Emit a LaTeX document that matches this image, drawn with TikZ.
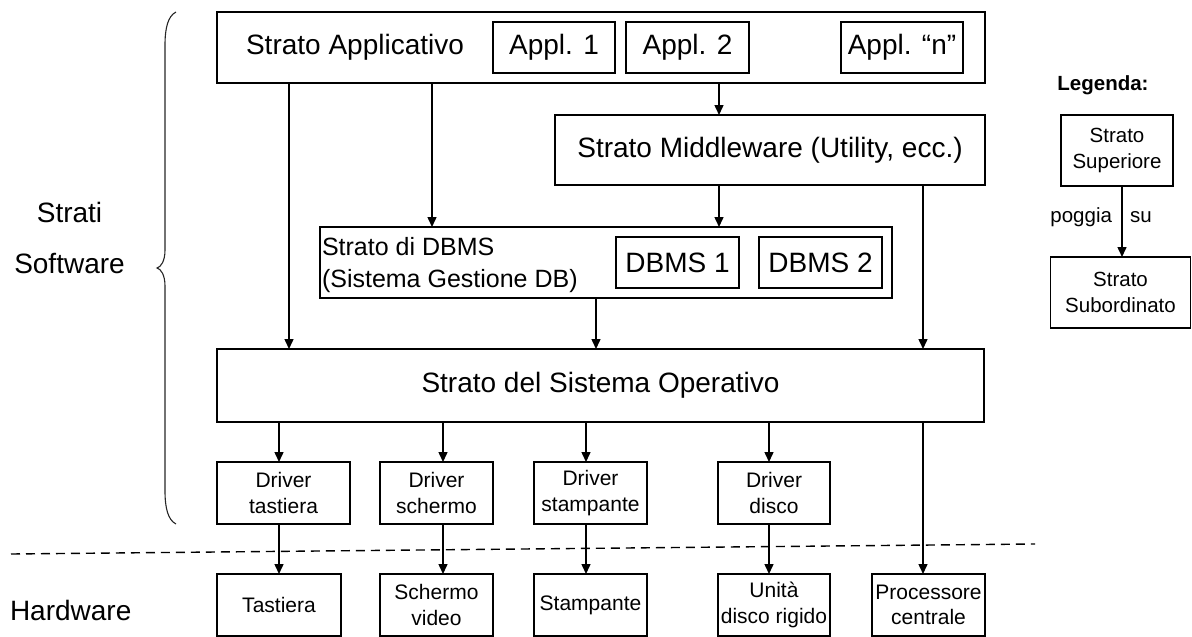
\documentclass[tikz,border=0pt]{standalone}
\usepackage{fontspec}
\setmainfont{Liberation Sans}
\usetikzlibrary{arrows.meta}
\begin{document}
\begin{tikzpicture}[x=1pt,y=-1pt,
  box/.style={draw, line width=1.6pt, inner sep=0pt, outer sep=0pt, align=center},
  arr/.style={line width=1.5pt, -{Triangle[length=10pt,width=9pt]}},
  big/.style={font=\fontsize{28}{32}\selectfont},
  mid/.style={font=\fontsize{25}{32}\selectfont},
  small/.style={font=\fontsize{21}{25.5}\selectfont},
  leg/.style={font=\fontsize{20.5}{26}\selectfont},
  txt/.style={inner sep=0pt, outer sep=0pt, align=center}]
\useasboundingbox (0,0) rectangle (1192,637);

% software layers
\node[box, minimum width=768pt, minimum height=71pt] (app) at (601,47.5) {};
\node[txt, big] (apptxt) at (355,47) {Strato Applicativo};
\node[box, big, minimum width=122pt, minimum height=51pt] (a1) at (554,47.5) {Appl. 1};
\node[box, big, minimum width=123pt, minimum height=51pt] (a2) at (687.5,47.5) {Appl. 2};
\node[box, big, minimum width=122pt, minimum height=51pt] (an) at (902,47.5) {Appl. “n”};

\node[box, big, minimum width=430pt, minimum height=70pt] (mw) at (770,150) {Strato Middleware (Utility, ecc.)};

\node[box, minimum width=572pt, minimum height=71pt] (dbms) at (606,262.5) {};
\node[txt, mid, align=left, anchor=west] (dbmstxt) at (322,265) {Strato di DBMS\\(Sistema Gestione DB)};
\node[box, big, minimum width=123pt, minimum height=51pt] (d1) at (677.5,262.5) {DBMS 1};
\node[box, big, minimum width=123pt, minimum height=51pt] (d2) at (820.5,262.5) {DBMS 2};

\node[box, big, minimum width=767pt, minimum height=73pt] (os) at (600.5,385.5) {Strato del Sistema Operativo};

% drivers
\node[box, small, minimum width=133pt, minimum height=62pt] (dr1) at (283.5,493) {Driver\\tastiera};
\node[box, small, minimum width=113pt, minimum height=62pt] (dr2) at (436.5,493) {Driver\\schermo};
\node[box, small, minimum width=113pt, minimum height=62pt] (dr3) at (590.5,493) {Driver\\stampante};
\node[box, small, minimum width=112pt, minimum height=62pt] (dr4) at (774,493) {Driver\\disco};

% hardware
\node[box, small, minimum width=124pt, minimum height=62pt] (hw1) at (279,605) {Tastiera};
\node[box, small, minimum width=113pt, minimum height=62pt] (hw2) at (436.5,605) {Schermo\\video};
\node[box, small, minimum width=113pt, minimum height=62pt] (hw3) at (590.5,605) {Stampante};
\node[box, small, minimum width=112pt, minimum height=62pt] (hw4) at (774,605) {Unità\\disco rigido};
\node[box, small, minimum width=113pt, minimum height=62pt] (hw5) at (928.5,605) {Processore\\centrale};

% left labels
\node[txt, font=\fontsize{28}{51}\selectfont] (strati) at (69.5,237.5) {Strati\\Software};
\node[txt, big, anchor=west] (hwtxt) at (10,610) {Hardware};

% brace
\draw[line width=1.1pt, black!85] (176,12) .. controls (168,16) and (165,28) .. (165,45)
  -- (165,250) .. controls (165,261) and (161,267) .. (157,268)
  .. controls (161,269) and (165,275) .. (165,286)
  -- (165,491) .. controls (165,508) and (168,520) .. (176,524);

% dashed separator
\coordinate (sepL) at (11,554);
\coordinate (sepR) at (1035,544);
\draw[line width=1.4pt, dash pattern=on 9pt off 6pt] (sepL) -- (sepR);

% connectors
\draw[arr] (app.south -| 289,0) -- (os.north -| 289,0);
\draw[arr] (app.south -| 432,0) -- (dbms.north -| 432,0);
\draw[arr] (app.south -| 719,0) -- (mw.north -| 719,0);
\draw[arr] (mw.south -| 719,0) -- (dbms.north -| 719,0);
\draw[arr] (mw.south -| 923,0) -- (os.north -| 923,0);
\draw[arr] (dbms.south -| 596,0) -- (os.north -| 596,0);

\draw[arr] (os.south -| 279,0) -- (dr1.north -| 279,0);
\draw[arr] (os.south -| 443,0) -- (dr2.north -| 443,0);
\draw[arr] (os.south -| 586,0) -- (dr3.north -| 586,0);
\draw[arr] (os.south -| 769,0) -- (dr4.north -| 769,0);
\draw[arr] (os.south -| 923,0) -- (hw5.north -| 923,0);

\draw[arr] (dr1.south -| 279,0) -- (hw1.north -| 279,0);
\draw[arr] (dr2.south -| 443,0) -- (hw2.north -| 443,0);
\draw[arr] (dr3.south -| 586,0) -- (hw3.north -| 586,0);
\draw[arr] (dr4.south -| 769,0) -- (hw4.north -| 769,0);

% legend
\node[txt, font=\fontsize{20.5}{24}\selectfont\bfseries] (legtitle) at (1103,85) {Legenda:};
\node[box, leg, minimum width=112pt, minimum height=71pt] (sup) at (1117,150.5) {Strato\\Superiore};
\node[box, leg, minimum width=140pt, minimum height=71pt] (sub) at (1120.5,292.5) {Strato\\Subordinato};
\draw[arr] (sup.south -| 1122,0) -- (sub.north -| 1122,0);
\node[txt, leg, anchor=east] (pog) at (1112,217) {poggia};
\node[txt, leg, anchor=west] (su) at (1130,217) {su};
\end{tikzpicture}
\end{document}
